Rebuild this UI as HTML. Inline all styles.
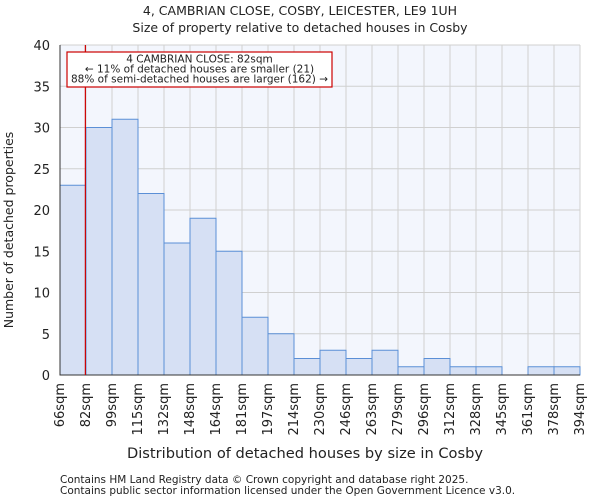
<!DOCTYPE html>
<html><head><meta charset="utf-8"><style>
body{margin:0;background:#fff;font-family:"DejaVu Sans","Liberation Sans",sans-serif;}
svg text{font-family:"DejaVu Sans","Liberation Sans",sans-serif;fill:#222;}
</style></head><body>
<svg id="chart" width="600" height="500" xmlns="http://www.w3.org/2000/svg">
<text x="300" y="15" text-anchor="middle" font-size="12.5">4, CAMBRIAN CLOSE, COSBY, LEICESTER, LE9 1UH</text>
<text x="300" y="32" text-anchor="middle" font-size="12.5">Size of property relative to detached houses in Cosby</text>
<rect x="60" y="45" width="520" height="330" fill="#f3f6fd"/>
<g id="grid"></g><g id="bars"></g><g id="axes"></g>
<text x="305" y="458" text-anchor="middle" font-size="14" textLength="356" lengthAdjust="spacingAndGlyphs">Distribution of detached houses by size in Cosby</text>
<text transform="translate(13,230) rotate(-90)" text-anchor="middle" font-size="12.5">Number of detached properties</text>
<text x="60" y="483" font-size="10.5">Contains HM Land Registry data © Crown copyright and database right 2025.</text>
<text x="60" y="494" font-size="10.5">Contains public sector information licensed under the Open Government Licence v3.0.</text>
</svg>
<script>
const tickLabels=["66sqm","82sqm","99sqm","115sqm","132sqm","148sqm","164sqm","181sqm","197sqm","214sqm","230sqm","246sqm","263sqm","279sqm","296sqm","312sqm","328sqm","345sqm","361sqm","378sqm","394sqm"];
const binEdges=[66,82.4,98.8,115.2,131.6,148,164.4,180.8,197.2,213.6,230,246.4,262.8,279.2,295.6,312,328.4,344.8,361.2,377.6,394];
const counts=[23,30,31,22,16,19,15,7,5,2,3,2,3,1,2,1,1,0,1,1];
const yTicks=[0,5,10,15,20,25,30,35,40];
const propertySize=82;
const NS="http://www.w3.org/2000/svg";
const x0=60,x1=580,y0=375,y1=45;
const xs=v=>x0+(v-66)/(394-66)*(x1-x0);
const ys=v=>y0-v/40*(y0-y1);
function mk(t,a,p){const e=document.createElementNS(NS,t);for(const k in a)e.setAttribute(k,a[k]);p.appendChild(e);return e;}
const grid=document.getElementById('grid'),bars=document.getElementById('bars'),axes=document.getElementById('axes');
yTicks.forEach(v=>{
 const l=mk('line',{x1:x0,x2:x1,y1:ys(v),y2:ys(v),stroke:'#d0d0d0'},grid);
 
 
 const t=mk('text',{x:x0-10,y:ys(v)+5,'text-anchor':'end','font-size':'13'},axes);t.textContent=v;
 
 
});
binEdges.forEach((v,i)=>{
 const l=mk('line',{x1:xs(v),x2:xs(v),y1:y0,y2:y1,stroke:'#d0d0d0'},grid);
 
 
 const X=xs(v)+4;
 const t=mk('text',{x:X,y:y0+8,'text-anchor':'end','font-size':'13',transform:`rotate(-90 ${X} ${y0+8})`},axes);t.textContent=tickLabels[i];
 
 
});
counts.forEach((c,i)=>{
 if(c<=0)return;
 const r=mk('rect',{x:xs(binEdges[i]),y:ys(c),width:xs(binEdges[i+1])-xs(binEdges[i]),height:y0-ys(c),fill:'#d6e0f4',stroke:'#5b8fd6','stroke-width':1},bars);
 
 
});
const ax=mk('path',{d:`M${x0} ${y1}V${y0}H${x1}`,fill:'none',stroke:'#333'},axes);


const px=xs(propertySize);
const ml=mk('line',{x1:px,x2:px,y1:y0,y2:y1,stroke:'#c00','stroke-width':1.2},axes);


const g=mk('g',{},axes);


mk('rect',{x:67,y:52,width:265,height:35,fill:'#fff',stroke:'#c00','stroke-width':1.2},g);
["4 CAMBRIAN CLOSE: 82sqm","← 11% of detached houses are smaller (21)","88% of semi-detached houses are larger (162) →"].forEach((s,i)=>{
 const t=mk('text',{x:199.5,y:62.5+i*10,'text-anchor':'middle','font-size':'10.5'},g);t.textContent=s;
});
</script>
</body></html>
